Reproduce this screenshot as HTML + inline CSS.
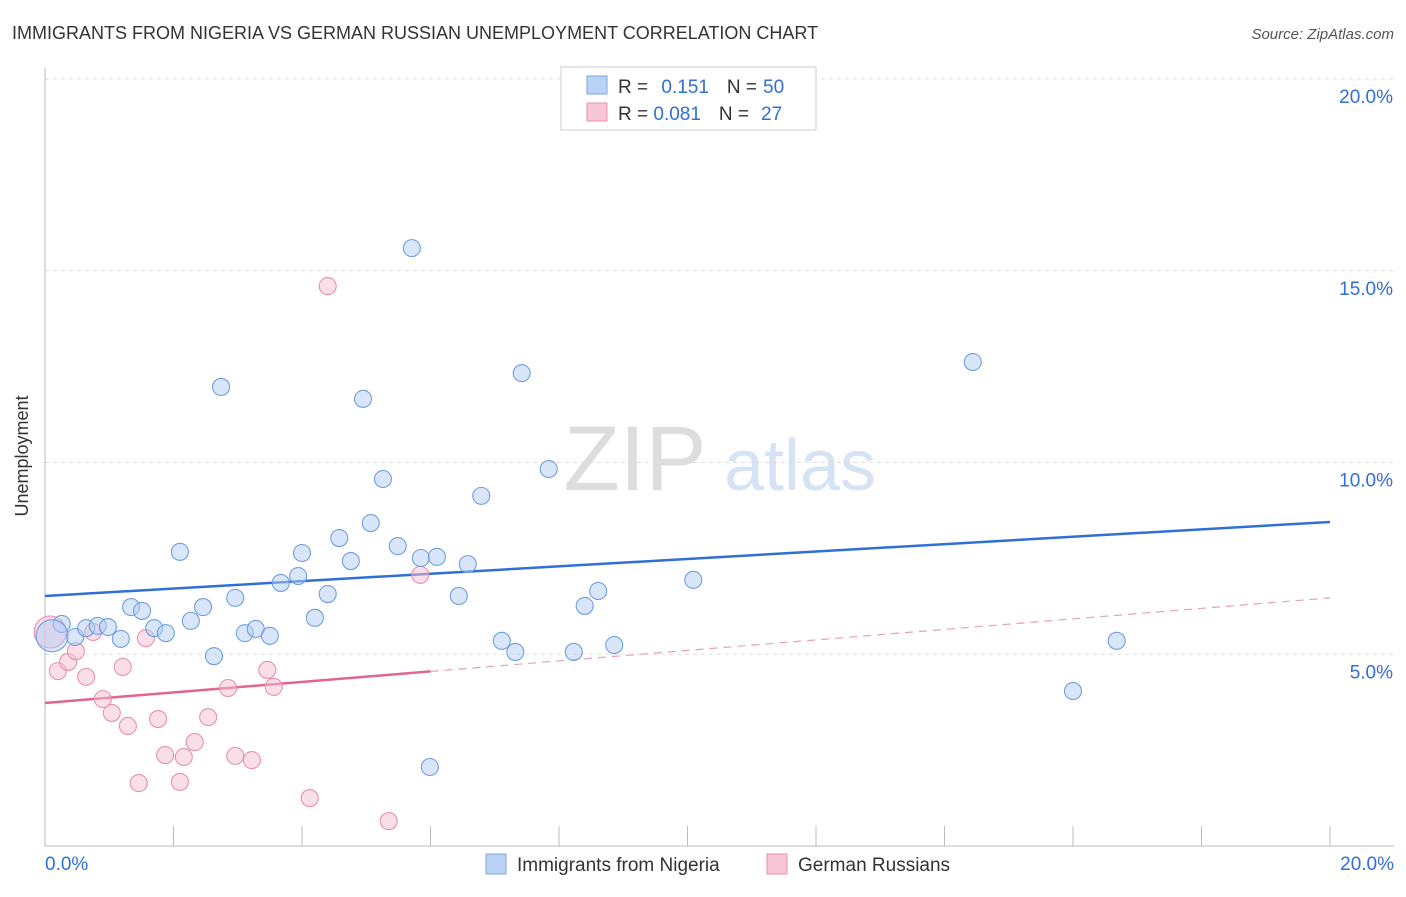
<!DOCTYPE html>
<html><head><meta charset="utf-8">
<style>
body{margin:0;background:#fff;font-family:"Liberation Sans",sans-serif;}
svg text{font-family:"Liberation Sans",sans-serif;}
</style></head>
<body>
<svg width="1406" height="892" viewBox="0 0 1406 892">
<text x="12" y="39" font-size="18" fill="#333">IMMIGRANTS FROM NIGERIA VS GERMAN RUSSIAN UNEMPLOYMENT CORRELATION CHART</text>
<text x="1394" y="39" font-size="15" fill="#555" font-style="italic" text-anchor="end">Source: ZipAtlas.com</text>
<g>
<text x="635" y="490" font-size="92" fill="#ddd" font-family="Liberation Serif" text-anchor="middle">ZIP</text>
<text x="800" y="490" font-size="72" fill="#d5e3f5" text-anchor="middle">atlas</text>
</g>
<g id="grid"></g>
<g id="axes"></g>
<g id="lines"></g>
<g id="points"></g>
<text x="28" y="456" font-size="18" fill="#333" text-anchor="middle" transform="rotate(-90 28 456)">Unemployment</text>
<g>
<rect x="561" y="67" width="255" height="63" fill="#fff" stroke="#ccc"/>
<rect x="587" y="76" width="20" height="18" fill="#b9d2f5" stroke="#7aa7e0"/>
<rect x="587" y="103" width="20" height="18" fill="#f8c6d6" stroke="#e890ab"/>
<text x="618" y="93" font-size="19" fill="#333">R = <tspan fill="#2f6fd6" dx="8">0.151</tspan><tspan dx="18" fill="#333">N =</tspan><tspan dx="6" fill="#2f6fd6">50</tspan></text>
<text x="618" y="120" font-size="19" fill="#333">R = <tspan fill="#2f6fd6">0.081</tspan><tspan dx="18" fill="#333">N =</tspan><tspan dx="12" fill="#2f6fd6">27</tspan></text>
</g>
<g>
<rect x="486" y="854" width="20" height="20" fill="#b9d2f5" stroke="#7aa7e0"/>
<text x="517" y="871" font-size="19" fill="#333">Immigrants from Nigeria</text>
<rect x="767" y="854" width="20" height="20" fill="#f8c6d6" stroke="#e890ab"/>
<text x="798" y="871" font-size="19" fill="#333">German Russians</text>
</g>
</svg>
<script>
const yTicks=[5,10,15,20];
const yTickLabels=["5.0%","10.0%","15.0%","20.0%"];
const xTicks=[0,2,4,6,8,10,12,14,16,18,20];
const xLabels=["0.0%","20.0%"];
const blueX=[0.26,0.11,0.47,0.64,0.82,0.98,1.18,1.34,1.51,1.70,1.88,2.10,2.27,2.46,2.63,2.74,2.96,3.11,3.28,3.50,3.67,3.94,4.00,4.20,4.40,4.58,4.76,4.95,5.07,5.26,5.49,5.71,5.85,5.99,6.10,6.44,6.58,6.79,7.11,7.32,7.42,7.84,8.23,8.40,8.61,8.86,10.09,14.44,16.00,16.68];
const blueY=[5.79,5.48,5.45,5.68,5.74,5.71,5.40,6.23,6.13,5.68,5.55,7.67,5.87,6.23,4.95,11.97,6.47,5.55,5.66,5.48,6.86,7.04,7.64,5.95,6.57,8.03,7.43,11.66,8.42,9.57,7.82,15.59,7.51,2.06,7.54,6.52,7.35,9.13,5.35,5.06,12.33,9.83,5.06,6.26,6.65,5.24,6.94,12.62,4.04,5.35];
const pinkX=[0.08,0.20,0.36,0.48,0.64,0.75,0.90,1.04,1.21,1.29,1.46,1.57,1.76,1.87,2.10,2.16,2.33,2.54,2.85,2.96,3.22,3.46,3.56,4.12,4.40,5.35,5.84];
const pinkY=[5.58,4.56,4.80,5.08,4.41,5.58,3.83,3.47,4.67,3.13,1.64,5.42,3.31,2.37,1.67,2.32,2.71,3.36,4.12,2.35,2.24,4.59,4.15,1.25,14.60,0.65,7.07];
const blueTrend=[6.52,8.45];
const pinkTrend=[3.73,6.47];
const pinkSolidEnd=6;
const NS="http://www.w3.org/2000/svg";
const sx=v=>45+v*64.25, sy=v=>846-v*38.35;
function mk(t,a,p){const e=document.createElementNS(NS,t);for(const k in a)e.setAttribute(k,a[k]);p.appendChild(e);return e;}
const grid=document.getElementById('grid'),axes=document.getElementById('axes'),lines=document.getElementById('lines'),pts=document.getElementById('points');
yTicks.forEach((v,i)=>{
 const l=mk('line',{x1:45,x2:1394,y1:sy(v),y2:sy(v),stroke:'#ddd','stroke-dasharray':'4 4'},grid);
 
 
 const t=mk('text',{x:1393,y:sy(v)+24,'font-size':19,fill:'#2f6fd6','text-anchor':'end'},grid);
 t.textContent=yTickLabels[i];
 
 
});
const xa=mk('line',{x1:45,x2:1394,y1:846,y2:846,stroke:'#bbb'},axes);


const ya=mk('line',{x1:45,x2:45,y1:68,y2:846,stroke:'#bbb'},axes);


xTicks.forEach(v=>{
 const l=mk('line',{x1:sx(v),x2:sx(v),y1:826,y2:846,stroke:'#bbb'},axes);
 
 
});
const xl0=mk('text',{x:45,y:870,'font-size':19,fill:'#2f6fd6'},axes);xl0.textContent=xLabels[0];


const xl1=mk('text',{x:1394,y:870,'font-size':19,fill:'#2f6fd6','text-anchor':'end'},axes);xl1.textContent=xLabels[1];


function drawPts(X,Y,fill,stroke,name){
 X.forEach((x,i)=>{
  const big=(i===1&&name==='nigeria-point')||(i===0&&name==='german-russian-point');
  const c=mk('circle',{cx:sx(x),cy:sy(Y[i]),r:big?16:8.5,fill:fill,'fill-opacity':0.5,stroke:stroke,'stroke-width':1.1},pts);
  
  
 });
}
drawPts(pinkX,pinkY,'#f8c0d2','#e890ab','german-russian-point');
drawPts(blueX,blueY,'#b3cef3','#6f9fde','nigeria-point');
const bl=mk('line',{x1:sx(0),y1:sy(blueTrend[0]),x2:sx(20),y2:sy(blueTrend[1]),stroke:'#2f6fd6','stroke-width':2.5},lines);


const pm=pinkTrend[0]+(pinkTrend[1]-pinkTrend[0])*pinkSolidEnd/20;
const ps=mk('line',{x1:sx(0),y1:sy(pinkTrend[0]),x2:sx(pinkSolidEnd),y2:sy(pm),stroke:'#e0658f','stroke-width':2.5},lines);


const pd=mk('line',{x1:sx(pinkSolidEnd),y1:sy(pm),x2:sx(20),y2:sy(pinkTrend[1]),stroke:'#e7a0b8','stroke-width':1.2,'stroke-dasharray':'8 6'},lines);


</script>
</body></html>
